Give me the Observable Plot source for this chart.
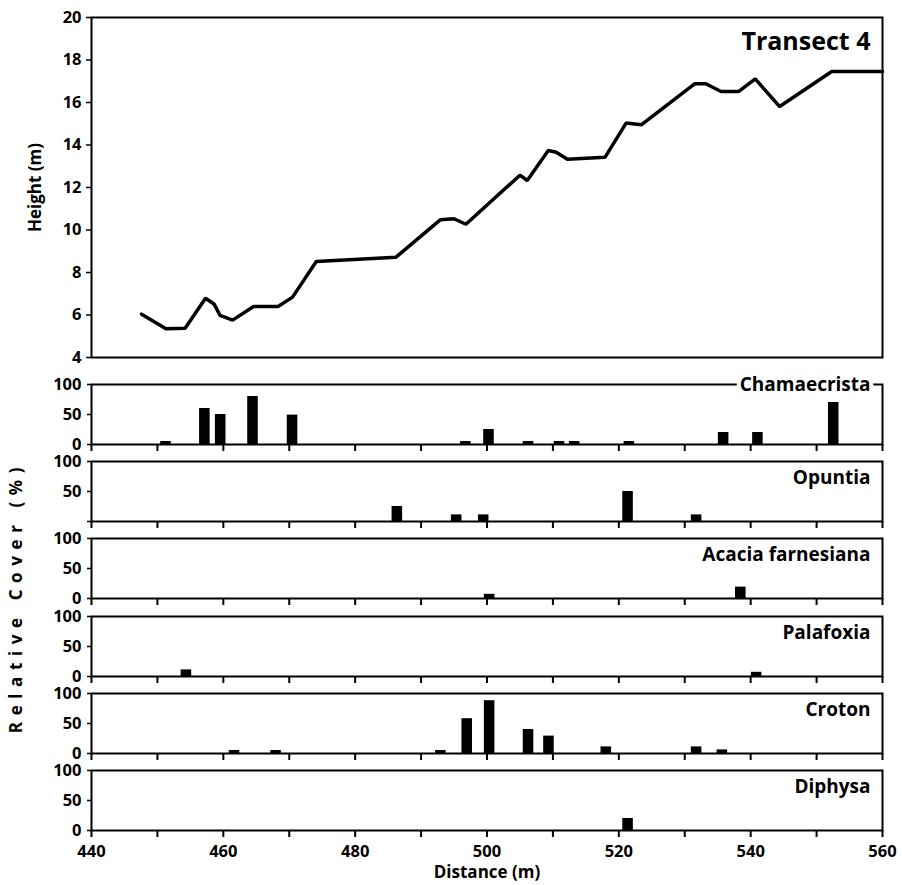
<!DOCTYPE html>
<html>
<head>
<meta charset="utf-8">
<script src="https://cdn.jsdelivr.net/npm/d3@7"></script>
<script src="https://cdn.jsdelivr.net/npm/@observablehq/plot@0.6"></script>
<style>
  body { margin: 0; background: #fff; }
  #chart { position: relative; width: 902px; height: 885px; font-family: "Open Sans", sans-serif; }
  #chart svg { position: absolute; left: 0; overflow: visible; }
  #ylab { position: absolute; left: 15px; top: 597px; transform: translate(-50%, -50%) rotate(-90deg);
          white-space: nowrap; font-weight: bold; font-size: 17px; letter-spacing: 6.6px; color: #000; }
</style>
</head>
<body>
<div id="chart"></div>
<script>
// ---------- data ----------
const title = "Transect 4";
const profileDistance = [447.6, 451.3, 454.2, 457.3, 458.6, 459.5, 461.4, 464.6, 468.3, 470.5, 474.1, 486.2, 492.9, 495.0, 496.8, 505.0, 506.1, 509.3, 510.5, 512.2, 517.9, 521.1, 523.4, 531.5, 533.2, 535.5, 538.2, 540.7, 544.4, 552.3, 560];
const profileHeight   = [6.04, 5.35, 5.38, 6.79, 6.52, 5.98, 5.76, 6.4, 6.4, 6.84, 8.52, 8.72, 10.48, 10.53, 10.27, 12.58, 12.33, 13.74, 13.66, 13.33, 13.42, 15.03, 14.95, 16.88, 16.88, 16.52, 16.52, 17.11, 15.81, 17.46, 17.46];

const species = ["Chamaecrista", "Opuntia", "Acacia farnesiana", "Palafoxia", "Croton", "Diphysa"];

const chamaecristaDistance = [451.3, 457.2, 459.6, 464.5, 470.5, 496.8, 500.3, 506.3, 511.0, 513.3, 521.6, 535.9, 541.1, 552.6];
const chamaecristaCover    = [5, 60, 50, 80, 49, 5, 25, 5, 5, 5, 5, 20, 20, 70];
const opuntiaDistance = [486.4, 495.4, 499.5, 521.4, 531.8];
const opuntiaCover    = [25, 11, 11, 50, 11];
const acaciaDistance = [500.4, 538.5];
const acaciaCover    = [7, 19];
const palafoxiaDistance = [454.4, 540.9];
const palafoxiaCover    = [11, 7];
const crotonDistance = [461.7, 468.0, 493.0, 497.0, 500.4, 506.3, 509.4, 518.1, 531.8, 535.7];
const crotonCover    = [5, 5, 5, 58, 88, 40, 29, 11, 11, 6];
const diphysaDistance = [521.4];
const diphysaCover    = [20];

const heightTicks = [4, 6, 8, 10, 12, 14, 16, 18, 20];
const coverTicks = [0, 50, 100];
const distanceTicks = [440, 450, 460, 470, 480, 490, 500, 510, 520, 530, 540, 550, 560];

// ---------- layout ----------
const W = 902, ML = 91, MR = 20;
const BAR_HALF = 0.8;
const PANEL_H = 60, STEP = 77.2, FIRST_TOP = 384;
const FONT = "'Open Sans', sans-serif";
const baseStyle = { fontFamily: FONT, fontSize: "16.5px", fontWeight: "bold", color: "black", background: "transparent", overflow: "visible" };

const chart = document.getElementById("chart");

// ---------- top profile ----------
const profile = profileDistance.map((d, i) => ({ d, h: profileHeight[i] }));
const profilePlot = Plot.plot({
  width: W, height: 375,
  marginLeft: ML, marginRight: MR, marginTop: 17, marginBottom: 18,
  x: { domain: [440, 560], axis: null },
  y: { domain: [4, 20], axis: null },
  style: baseStyle,
  marks: [
    Plot.frame({ stroke: "black", strokeWidth: 2 }),
    Plot.axisY({ ticks: heightTicks, tickSize: 5, tickPadding: 5, strokeWidth: 1.5, label: null }),
    Plot.line(profile, { x: "d", y: "h", stroke: "black", strokeWidth: 3.5, strokeLinejoin: "miter" }),
    Plot.text([title], { frameAnchor: "top-right", dx: -12, dy: 24, lineAnchor: "middle", textAnchor: "end", fontSize: 25, fontWeight: "bold", fill: "black" }),
    Plot.text(["Height (m)"], { frameAnchor: "left", dx: -56, rotate: -90, lineAnchor: "middle", textAnchor: "middle", fontSize: 17, fontWeight: "bold", fill: "black" })
  ]
});
profilePlot.style.top = "0px";
chart.appendChild(profilePlot);

// ---------- cover panels ----------
const coverDistance = [chamaecristaDistance, opuntiaDistance, acaciaDistance, palafoxiaDistance, crotonDistance, diphysaDistance];
const coverValue = [chamaecristaCover, opuntiaCover, acaciaCover, palafoxiaCover, crotonCover, diphysaCover];

species.forEach((name, i) => {
  const last = i === species.length - 1;
  const mt = 12, mb = last ? 55 : 12;
  const panelTop = FIRST_TOP + i * STEP;
  const data = coverDistance[i].map((d, j) => ({ d, v: coverValue[i][j] }));
  const onFrame = i === 0;
  const svg = Plot.plot({
    width: W, height: mt + PANEL_H + mb,
    marginLeft: ML, marginRight: MR, marginTop: mt, marginBottom: mb,
    x: { domain: [440, 560], axis: null },
    y: { domain: [0, 100], axis: null },
    style: baseStyle,
    marks: [
      Plot.rectY(data, { x1: r => r.d - BAR_HALF, x2: r => r.d + BAR_HALF, y: "v", fill: "black" }),
      Plot.frame({ stroke: "black", strokeWidth: 2 }),
      Plot.axisY({ ticks: coverTicks, tickSize: 4, tickPadding: 6, strokeWidth: 1.5, label: null,
                   tickFormat: t => (name === "Opuntia" && t === 0) ? "" : String(t) }),
      Plot.axisX({ ticks: distanceTicks, tickSize: 7, tickPadding: 8, strokeWidth: 2, label: null,
                   tickFormat: t => (last && t % 20 === 0) ? String(t) : "" }),
      last ? Plot.text(["Distance (m)"], { frameAnchor: "bottom", dy: 42, lineAnchor: "middle", textAnchor: "middle", fontSize: 17, fontWeight: "bold", fill: "black" }) : null,
      Plot.text([name], {
        frameAnchor: "top-right", dx: -12, dy: onFrame ? 0 : 16, lineAnchor: "middle", textAnchor: "end",
        fontSize: 19, fontWeight: "bold", fill: "black",
        stroke: onFrame ? "white" : "none", strokeWidth: onFrame ? 8 : 0
      })
    ]
  });
  svg.style.top = (panelTop - mt) + "px";
  chart.appendChild(svg);
});

// shared rotated axis title
const ylab = document.createElement("div");
ylab.id = "ylab";
ylab.textContent = "Relative Cover (%)";
chart.appendChild(ylab);
</script>
</body>
</html>
